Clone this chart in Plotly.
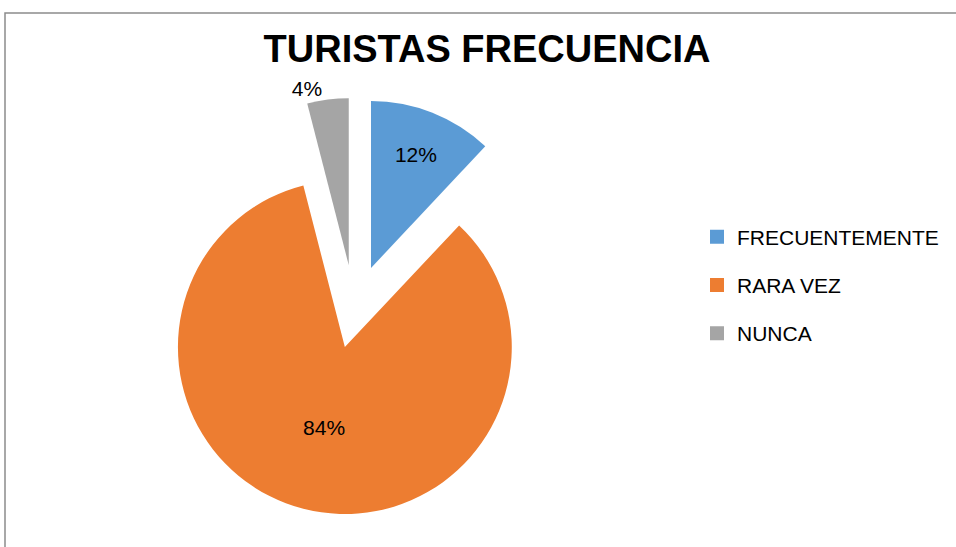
import plotly.graph_objects as go

categories = ["FRECUENTEMENTE", "RARA VEZ", "NUNCA"]
values = [12, 84, 4]
colors = ["#5B9BD5", "#ED7D31", "#A5A5A5"]
title_text = "TURISTAS FRECUENCIA"

W, H = 956, 547
cx, cy, half = 354.4, 309.9, 212.0
FONT = "Liberation Sans, Arial, sans-serif"

fig = go.Figure()
fig.add_trace(go.Pie(
    labels=categories,
    values=values,
    marker=dict(colors=colors, line=dict(width=0)),
    sort=False,
    direction="clockwise",
    rotation=0,
    pull=[0.27, 0.23, 0.27],
    textinfo="percent",
    textposition=["inside", "inside", "outside"],
    insidetextorientation="horizontal",
    textfont=dict(family=FONT, size=21, color="#000000"),
    domain=dict(x=[(cx - half) / W, (cx + half) / W],
                y=[1 - (cy + half) / H, 1 - (cy - half) / H]),
    hoverinfo="label+percent",
    showlegend=False,
))

# legend entries (one per category) so the entry spacing can match the reference
for name, col in zip(categories, colors):
    fig.add_trace(go.Scatter(
        x=[None], y=[None], mode="markers", name=name, legendgroup=name,
        marker=dict(symbol="square", size=14, color=col),
        showlegend=True, hoverinfo="skip",
    ))

fig.update_layout(
    width=W, height=H,
    margin=dict(l=0, r=0, t=0, b=0, autoexpand=False),
    paper_bgcolor="#ffffff",
    plot_bgcolor="#ffffff",
    xaxis=dict(visible=False),
    yaxis=dict(visible=False),
    title=dict(text="<b>" + title_text + "</b>", x=487 / W, xanchor="center",
               y=1 - 49 / H, yanchor="middle", yref="paper",
               font=dict(family=FONT, size=38, color="#000000")),
    legend=dict(x=697 / W, xanchor="left", y=1 - 285 / H, yanchor="middle",
                font=dict(family=FONT, size=21, color="#000000"),
                tracegroupgap=18, itemsizing="trace",
                bgcolor="rgba(0,0,0,0)"),
    shapes=[dict(type="rect", xref="paper", yref="paper",
                 x0=5 / W, x1=1.02, y0=-0.02, y1=1 - 13 / H,
                 line=dict(color="#8c8c8c", width=1.5), fillcolor="rgba(0,0,0,0)")],
)

fig.write_html("out.html",
               config={"displayModeBar": False},
               post_script="document.body.style.margin='0';document.body.style.overflow='hidden';")
